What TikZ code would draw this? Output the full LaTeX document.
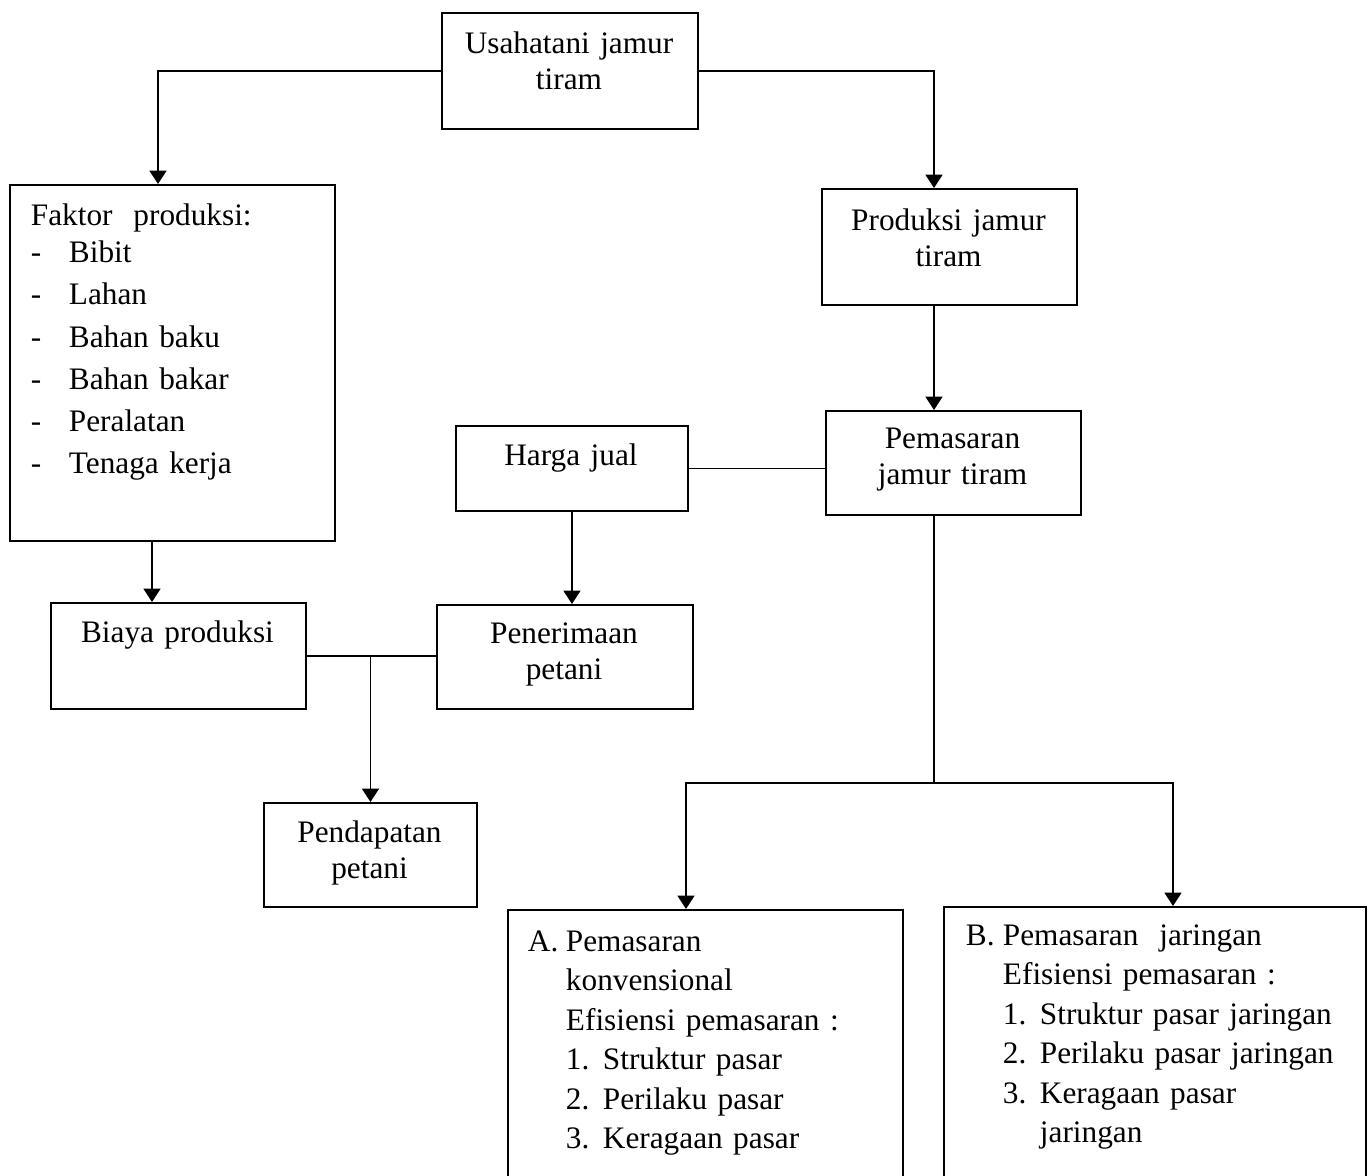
\documentclass[tikz,border=0pt]{standalone}
\usepackage{fontspec}
\setmainfont{Liberation Serif}
\usetikzlibrary{arrows.meta,calc,positioning}

\begin{document}
\begin{tikzpicture}[x=0.2mm,y=-0.2mm,>={Triangle[width=9.6pt,length=7.6pt]},line width=1.1pt,
  box/.style 2 args={draw,anchor=north west,inner sep=0pt,minimum width=#1*0.2mm,minimum height=#2*0.2mm},
  txt/.style={anchor=base,align=center,inner sep=0pt,text width=46mm,font=\fontsize{17.8}{21}\selectfont},
  lst/.style={anchor=base west,align=left,inner sep=0pt,font=\fontsize{17.8}{#1}\selectfont}]
  \useasboundingbox (0,0) rectangle (1368,1176);
  \clip (0,0) rectangle (1368,1176);

  \node[box={256}{116}] (usaha) at (441,12) {};
  \node[txt] (usahaT) at (569,53) {Usahatani jamur\\tiram};

  \node[box={325}{356}] (faktor) at (9,184) {};
  \node[lst=24pt,text width=60mm] (faktorT) at (30,225) {Faktor\ \ produksi:\\[-2.5pt]
    \makebox[7.6mm][l]{-}Bibit\\
    \makebox[7.6mm][l]{-}Lahan\\
    \makebox[7.6mm][l]{-}Bahan baku\\
    \makebox[7.6mm][l]{-}Bahan bakar\\
    \makebox[7.6mm][l]{-}Peralatan\\
    \makebox[7.6mm][l]{-}Tenaga kerja};

  \node[box={255}{116}] (produksi) at (821,188) {};
  \node[txt] (produksiT) at (948.5,230) {Produksi jamur\\tiram};

  \node[box={255}{104}] (pemasaran) at (825,410) {};
  \node[txt] (pemasaranT) at (952.5,448) {Pemasaran\\jamur tiram};

  \node[box={232}{85}] (harga) at (455,425) {};
  \node[txt] (hargaT) at (571,465) {Harga jual};

  \node[box={255}{106}] (biaya) at (50,602) {};
  \node[txt] (biayaT) at (177.5,642) {Biaya produksi};

  \node[box={256}{104}] (penerimaan) at (436,604) {};
  \node[txt] (penerimaanT) at (564,643) {Penerimaan\\petani};

  \node[box={213}{104}] (pendapatan) at (263,802) {};
  \node[txt,text width=40mm] (pendapatanT) at (369.5,842) {Pendapatan\\petani};

  \node[box={395}{300}] (konv) at (507,909) {};
  \node[lst=22.5pt,text width=74mm] (konvT) at (527,951) {\makebox[7.6mm][l]{A.}Pemasaran\\
    \makebox[7.6mm]{}konvensional\\
    \makebox[7.6mm]{}Efisiensi pemasaran :\\
    \makebox[7.6mm]{}\makebox[7.4mm][l]{1.}Struktur pasar\\
    \makebox[7.6mm]{}\makebox[7.4mm][l]{2.}Perilaku pasar\\
    \makebox[7.6mm]{}\makebox[7.4mm][l]{3.}Keragaan pasar};

  \node[box={422}{300}] (jaringan) at (943,906) {};
  \node[lst=22.5pt,text width=80mm] (jaringanT) at (965,945) {\makebox[7.4mm][l]{B.}Pemasaran\ \ jaringan\\
    \makebox[7.4mm]{}Efisiensi pemasaran :\\
    \makebox[7.4mm]{}\makebox[7.4mm][l]{1.}Struktur pasar jaringan\\
    \makebox[7.4mm]{}\makebox[7.4mm][l]{2.}Perilaku pasar jaringan\\
    \makebox[7.4mm]{}\makebox[7.4mm][l]{3.}Keragaan pasar\\
    \makebox[7.4mm]{}\makebox[7.4mm]{}jaringan};

  \coordinate (usx) at (158,0);
  \coordinate (fkx) at (152,0);
  \coordinate (pmx) at (934,0);
  \coordinate (split) at (934,783);
  \coordinate (kax) at (686,0);
  \coordinate (kbx) at (1173,0);

  \draw[->] (usaha.west) -| (faktor.north -| usx);
  \draw[->] (usaha.east) -| (produksi.north -| pmx);
  \draw[->] (faktor.south -| fkx) -- (biaya.north -| fkx);
  \draw[->] (produksi.south -| pmx) -- (pemasaran.north -| pmx);
  \draw (harga.east) -- (harga.east -| pemasaran.west);
  \draw[->] (harga.south) -- (harga.south |- penerimaan.north);
  \draw (biaya.east) -- (biaya.east -| penerimaan.west);
  \draw[->] (biaya.east -| pendapatan.north) -- (pendapatan.north);
  \draw (pemasaran.south -| pmx) -- (split);
  \draw[->] (split) -| (konv.north -| kax);
  \draw[->] (split) -| (jaringan.north -| kbx);
\end{tikzpicture}
\end{document}
